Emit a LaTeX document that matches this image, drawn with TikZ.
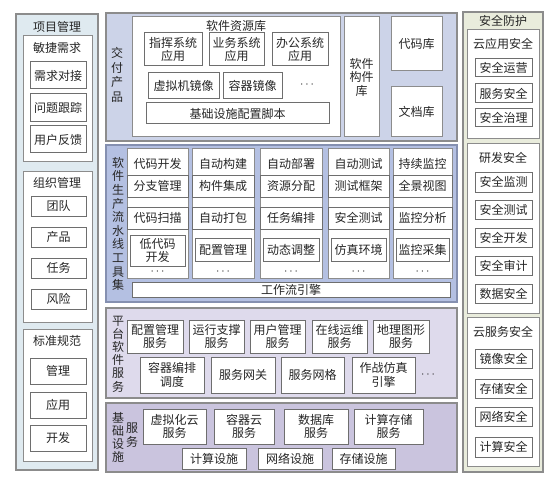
\documentclass[tikz,border=0pt]{standalone}
\usepackage{fontspec}
\newfontfamily\cjk{Noto Sans CJK SC}
\definecolor{projbg}{HTML}{DFEAF0}
\definecolor{delivbg}{HTML}{CCD3E8}
\definecolor{pipebg}{HTML}{B4C0E2}
\definecolor{pipeline}{HTML}{8590B0}
\definecolor{platbg}{HTML}{DEDAEC}
\definecolor{infrabg}{HTML}{CAC4DE}
\definecolor{secbg}{HTML}{E9ECDC}
\definecolor{frame}{HTML}{8C8C8C}
\definecolor{itemline}{HTML}{6E6E6E}
\tikzset{
  every node/.style={font=\cjk\fontsize{12}{13.5}\selectfont, text=black!85},
  panel/.style={draw=frame, line width=1.2pt, inner sep=0pt},
  group/.style={draw=frame, fill=white, line width=1pt, inner sep=0pt},
  item/.style={draw=itemline, fill=white, line width=1pt, inner sep=0pt, align=center},
  vlabel/.style={align=center, inner sep=0pt},
}
\begin{document}
\begin{tikzpicture}[x=1pt, y=-1pt]
    % caja: estilo, nombre, x1, y1, x2, y2, texto
    \def\blk#1#2#3#4#5#6#7{%
      \pgfmathsetmacro\bw{#5-#3}\pgfmathsetmacro\bh{#6-#4}%
      \node[#1, minimum width=\bw pt, minimum height=\bh pt] (#2)
        at ({(#3+#5)/2},{(#4+#6)/2}) {#7};}
    \useasboundingbox[fill=white] (0,0) rectangle (556,481);

    %—————— Project management ————————————————————————————————————————
    \blk{panel, fill=projbg}{proj}{16}{14}{98}{470}{}
    \node (projT) at (57,27) {项目管理};
    \blk{group}{agile}{23}{36}{92}{162}{}
    \node (agileT) at (57,48) {敏捷需求};
    \blk{item}{req}{30}{62}{86}{89}{需求对接}
    \blk{item}{issue}{30}{94}{86}{122}{问题跟踪}
    \blk{item}{feedback}{30}{126}{86}{153}{用户反馈}
    \blk{group}{org}{23}{171}{92}{322}{}
    \node (orgT) at (57,183) {组织管理};
    \blk{item}{team}{31}{196}{86}{216}{团队}
    \blk{item}{product}{31}{227}{86}{247}{产品}
    \blk{item}{task}{31}{258}{86}{278}{任务}
    \blk{item}{risk}{31}{289}{86}{309}{风险}
    \blk{group}{std}{23}{329}{92}{461}{}
    \node (stdT) at (57,341) {标准规范};
    \blk{item}{mgmt}{30}{358}{86}{384}{管理}
    \blk{item}{appl}{30}{392}{86}{418}{应用}
    \blk{item}{dev}{30}{425}{86}{451}{开发}

    %—————— Delivered products ————————————————————————————————————————
    \blk{panel, fill=delivbg}{deliv}{106}{13}{457}{141}{}
    \node[vlabel, font=\cjk\fontsize{12}{14.5}\selectfont] (delivT) at (117,75)
      {交\\付\\产\\品};
    \blk{group}{repo}{132}{17}{340}{137}{}
    \node (repoT) at (236,26) {软件资源库};
    \blk{item}{cmdapp}{144}{33}{202}{66}{指挥系统\\应用}
    \blk{item}{bizapp}{209}{33}{264}{66}{业务系统\\应用}
    \blk{item}{offapp}{272}{33}{328}{66}{办公系统\\应用}
    \blk{item}{vmimg}{148}{73}{219}{99}{虚拟机镜像}
    \blk{item}{ctimg}{223}{73}{282}{99}{容器镜像}
    \node (repoDots) at (307,85) {$\cdots$};
    \blk{item}{infscript}{146}{103}{329}{124}{基础设施配置脚本}
    \blk{group, align=center}{artifact}{344}{17}{379}{137}{软件\\构件\\库}
    \blk{group}{coderepo}{391}{17}{442}{71}{代码库}
    \blk{group}{docrepo}{391}{87}{442}{137}{文档库}

    %—————— Pipeline toolset ——————————————————————————————————————————
    \blk{panel, fill=pipebg, draw=pipeline}{pipe}{106}{145}{457}{302}{}
    \node[vlabel, font=\cjk\fontsize{12}{13.6}\selectfont] (pipeT) at (118,224)
      {软\\件\\生\\产\\流\\水\\线\\工\\具\\集};
    % columnas: nombre, x1, x2, titulo, dos tareas
    \foreach \cn/\xa/\xb/\ct/\ta/\tb in {
        code/127/188/代码开发/分支管理/代码扫描,
        build/192/254/自动构建/构件集成/自动打包,
        deploy/260/322/自动部署/资源分配/任务编排,
        test/328/389/自动测试/测试框架/安全测试,
        monitor/393/452/持续监控/全景视图/监控分析} {
      \blk{group}{\cn}{\xa}{149}{\xb}{278}{}
      \node (\cn T) at ({(\xa+\xb)/2},164) {\ct};
      \blk{item}{\cn A}{\xa+3}{175}{\xb-3}{197}{\ta}
      \blk{item}{\cn B}{\xa+3}{207}{\xb-3}{229}{\tb}
      \node (\cn D) at ({(\xa+\xb)/2},272) {$\cdots$};
    }
    \blk{item}{codeC}{130}{235}{185}{266}{低代码\\开发}
    \blk{item}{buildC}{195}{238}{251}{261}{配置管理}
    \blk{item}{deployC}{263}{238}{319}{261}{动态调整}
    \blk{item}{testC}{331}{238}{386}{261}{仿真环境}
    \blk{item}{monitorC}{396}{238}{449}{261}{监控采集}
    \blk{item}{workflow}{132}{282}{450}{297}{工作流引擎}

    %—————— Platform services —————————————————————————————————————————
    \blk{panel, fill=platbg}{plat}{106}{308}{457}{398}{}
    \node[vlabel, font=\cjk\fontsize{12}{13.2}\selectfont] (platT) at (118,354)
      {平\\台\\软\\件\\服\\务};
    \blk{item}{cfgsvc}{127}{320}{183}{353}{配置管理\\服务}
    \blk{item}{runsvc}{189}{320}{244}{353}{运行支撑\\服务}
    \blk{item}{usersvc}{250}{320}{305}{353}{用户管理\\服务}
    \blk{item}{opssvc}{312}{320}{367}{353}{在线运维\\服务}
    \blk{item}{geosvc}{373}{320}{429}{353}{地理图形\\服务}
    \blk{item}{orch}{140}{357}{204}{393}{容器编排\\调度}
    \blk{item}{gateway}{211}{357}{275}{393}{服务网关}
    \blk{item}{mesh}{281}{357}{344}{393}{服务网格}
    \blk{item}{simeng}{352}{357}{415}{393}{作战仿真\\引擎}
    \node (platDots) at (428,375) {$\cdots$};

    %—————— Infrastructure services ———————————————————————————————————
    \blk{panel, fill=infrabg}{infra}{106}{403}{457}{472}{}
    \node[vlabel, font=\cjk\fontsize{12}{13}\selectfont] (infraT) at (118,437)
      {基\\础\\设\\施};
    \node[vlabel, font=\cjk\fontsize{12}{14}\selectfont] (infraS) at (132,435)
      {服\\务};
    \blk{item}{vmcloud}{143}{409}{206}{444}{虚拟化云\\服务}
    \blk{item}{ctcloud}{214}{409}{274}{444}{容器云\\服务}
    \blk{item}{dbsvc}{284}{409}{348}{444}{数据库\\服务}
    \blk{item}{cssvc}{354}{409}{423}{444}{计算存储\\服务}
    \blk{item}{compute}{182}{448}{246}{469}{计算设施}
    \blk{item}{network}{258}{448}{322}{469}{网络设施}
    \blk{item}{storage}{332}{448}{395}{469}{存储设施}

    %—————— Security ——————————————————————————————————————————————————
    \blk{panel, fill=secbg}{sec}{463}{12}{543}{472}{}
    \node (secT) at (503,21) {安全防护};
    \blk{group}{cloudapp}{467}{30}{539}{139}{}
    \node (cloudappT) at (503,44) {云应用安全};
    \blk{item}{secops}{475}{59}{532}{77}{安全运营}
    \blk{item}{svcsec}{475}{84}{532}{103}{服务安全}
    \blk{item}{secgov}{475}{109}{532}{127}{安全治理}
    \blk{group}{devsec}{467}{144}{539}{313}{}
    \node (devsecT) at (503,158) {研发安全};
    \blk{item}{secmon}{475}{172}{532}{192}{安全监测}
    \blk{item}{sectest}{475}{200}{532}{219}{安全测试}
    \blk{item}{secdev}{475}{228}{532}{247}{安全开发}
    \blk{item}{secaudit}{475}{256}{532}{275}{安全审计}
    \blk{item}{datasec}{475}{284}{532}{303}{数据安全}
    \blk{group}{cloudsvc}{467}{317}{539}{466}{}
    \node (cloudsvcT) at (503,332) {云服务安全};
    \blk{item}{imgsec}{475}{349}{532}{368}{镜像安全}
    \blk{item}{stosec}{475}{379}{532}{398}{存储安全}
    \blk{item}{netsec}{475}{407}{532}{426}{网络安全}
    \blk{item}{compsec}{475}{437}{532}{457}{计算安全}
\end{tikzpicture}
\end{document}
